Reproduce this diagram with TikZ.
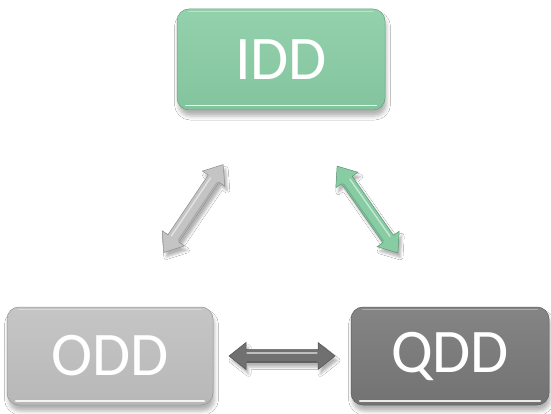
\documentclass[tikz,border=0pt]{standalone}
\usepackage{fontspec}
\setmainfont{Carlito}
\usetikzlibrary{calc,shadows.blur}

\definecolor{iddgreen}{RGB}{136,204,164}
\definecolor{oddgray}{RGB}{191,191,191}
\definecolor{qddgray}{RGB}{119,119,119}
\definecolor{arrowdark}{RGB}{112,112,112}
\definecolor{arrowlight}{RGB}{196,196,196}

% outline of a two-headed block arrow, centred on the origin
\newcommand\arrowoutline{(-53,0) -- (-36,-13.5) -- (-36,-6.5) -- (36,-6.5) -- (36,-13.5) -- (53,0) -- (36,13.5) -- (36,6.5) -- (-36,6.5) -- (-36,13.5) -- cycle}

% #1 centre coordinate, #2 angle, #3 colour
\newcommand\twowayarrow[3]{%
  \begin{scope}[shift={(#1)}, shift={(2.5pt,-4.5pt)}, rotate=#2]
    \path[blur shadow={shadow xshift=0pt, shadow yshift=0pt, shadow opacity=30, shadow blur radius=2.5pt}] \arrowoutline;
  \end{scope}
  \begin{scope}[shift={(#1)}, rotate=#2]
    \fill[#3, draw=#3!72!black, line width=0.5pt] \arrowoutline;
    \draw[white, opacity=0.55, line width=1.3pt, line cap=round] (-35,-3) -- (35,-3);
    \draw[#3!70!black, opacity=0.5, line width=1pt] (-35,5) -- (35,5);
  \end{scope}
}

% glossy bevel highlights on a box
\newcommand\gloss[1]{%
  \draw[white, opacity=0.85, line width=1.5pt, line cap=round]
    ([xshift=9pt,yshift=4.5pt]#1.south west) -- ([xshift=-9pt,yshift=4.5pt]#1.south east);
  \draw[white, opacity=0.35, line width=1.2pt, line cap=round]
    ([xshift=12pt,yshift=-2.5pt]#1.north west) -- ([xshift=-12pt,yshift=-2.5pt]#1.north east);
}

\tikzset{
  box/.style={rectangle, rounded corners=12pt, inner sep=0pt,
    font=\fontsize{62}{62}\selectfont, text=white,
    draw=#1!78!black, line width=0.5pt,
    top color=#1!90!white, bottom color=#1!96!black,
    blur shadow={shadow xshift=1.5pt, shadow yshift=-6pt, shadow opacity=30, shadow blur radius=4pt}},
}

\begin{document}
\begin{tikzpicture}[x=1pt, y=-1pt]
  \fill[white] (0,0) rectangle (551,414);
  \useasboundingbox (0,0) rectangle (551,414);

  \node[box=iddgreen, minimum width=208pt, minimum height=101pt] (idd) at (281,59.5) {IDD};
  \node[box=oddgray, minimum width=206pt, minimum height=98pt] (odd) at (110,356) {ODD};
  \node[box=qddgray, minimum width=198pt, minimum height=98pt] (qdd) at (450,356) {QDD};

  \gloss{idd}
  \gloss{odd}
  \gloss{qdd}

  \coordinate (oi) at ($(odd.north)!0.5!(idd.south)+(-2,0)$);
  \coordinate (qi) at ($(qdd.north)!0.5!(idd.south)+(2,1)$);
  \coordinate (oq) at ($(odd.east)!0.5!(qdd.west)$);

  \twowayarrow{oi}{56}{arrowlight}
  \twowayarrow{qi}{-55}{iddgreen}
  \twowayarrow{oq}{0}{arrowdark}
\end{tikzpicture}
\end{document}
